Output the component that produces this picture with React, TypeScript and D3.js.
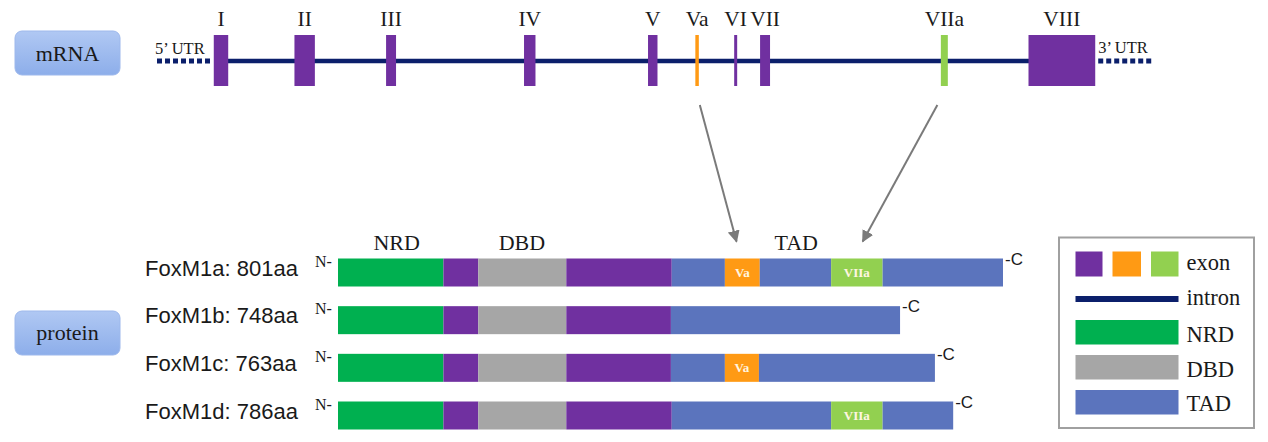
import React from "react";
import * as d3 from "d3";

// ---------- mRNA data (positions in relative gene units, 0..100) ----------
const exonLabels = ["I", "II", "III", "IV", "V", "Va", "VI", "VII", "VIIa", "VIII"];
const exonStarts = [5.7, 13.8, 23.0, 36.85, 49.3, 54.05, 57.95, 60.55, 78.7, 87.5];
const exonEnds = [7.15, 15.85, 24.0, 38.0, 50.25, 54.4, 58.25, 61.55, 79.4, 94.2];
const exonKinds = ["exon", "exon", "exon", "exon", "exon", "Va", "exon", "exon", "VIIa", "exon"];
const utr5 = [0, 5.45];
const utr3 = [94.5, 100];
const intronSpan = [7.0, 87.6];

// ---------- protein data (units on FoxM1a scale, 0..801) ----------
const isoformNames = ["FoxM1a: 801aa", "FoxM1b: 748aa", "FoxM1c: 763aa", "FoxM1d: 786aa"];
const isoformSegTypes = [
  ["NRD", "exon", "DBD", "exon", "TAD", "Va", "TAD", "VIIa", "TAD"],
  ["NRD", "exon", "DBD", "exon", "TAD"],
  ["NRD", "exon", "DBD", "exon", "TAD", "Va", "TAD"],
  ["NRD", "exon", "DBD", "exon", "TAD", "VIIa", "TAD"],
];
const isoformSegBounds = [
  [0, 127, 169, 275, 402, 466, 508, 594, 656, 801],
  [0, 127, 169, 275, 401, 677],
  [0, 127, 169, 275, 401, 466, 507, 719],
  [0, 127, 169, 275, 402, 594, 656, 741],
];
const domainLabels = ["NRD", "DBD", "TAD"];
const domainLabelPos = [70.7, 221.5, 552];

// arrows: mRNA unit -> protein unit
const arrowFrom = [54.5, 78.35];
const arrowTo = [480, 632];

// legend
const legendLabels = ["exon", "intron", "NRD", "DBD", "TAD"];

const colors: Record<string, string> = {
  exon: "#7030A0",
  Va: "#FF9A14",
  VIIa: "#92D050",
  NRD: "#00B050",
  DBD: "#A6A6A6",
  TAD: "#5B74BD",
  intron: "#0B1F6B",
};

export default function App() {
  const W = 1268;
  const H = 442;
  const xm = d3.scaleLinear().domain([0, 100]).range([157, 1153]);
  const xp = d3.scaleLinear().domain([0, 801]).range([338, 1003]);
  const yRow = d3.scaleLinear().domain([0, 3]).range([258.5, 401.5]);
  const barH = 28;
  const exonTop = 35;
  const exonBot = 86;
  const midY = 61;

  const serif = "'Liberation Serif', 'Times New Roman', serif";
  const sans = "'Liberation Sans', Arial, sans-serif";

  const arrowLine = d3.line();

  return (
    <svg
      width={W}
      height={H}
      style={{ position: "absolute", left: 0, top: 0, background: "#fff" }}
    >
      <defs>
        <linearGradient id="boxGrad" x1="0" y1="0" x2="0" y2="1">
          <stop offset="0" stopColor="#B0C8F3" />
          <stop offset="1" stopColor="#8DAEEA" />
        </linearGradient>
        <marker
          id="arrowHead"
          viewBox="0 0 10 10"
          refX="9"
          refY="5"
          markerWidth="6"
          markerHeight="6"
          orient="auto"
        >
          <path d="M0,0 L10,5 L0,10 z" fill="#7a7a7a" />
        </marker>
      </defs>

      {/* label boxes */}
      <rect x={15} y={31} width={105} height={44} rx={7} fill="url(#boxGrad)" stroke="#9db8ec" strokeWidth={1} />
      <text x={67.5} y={61} textAnchor="middle" fontFamily={serif} fontSize={22} fill="#1a1a1a">
        mRNA
      </text>
      <rect x={15} y={311} width={105} height={44} rx={7} fill="url(#boxGrad)" stroke="#9db8ec" strokeWidth={1} />
      <text x={67.5} y={340} textAnchor="middle" fontFamily={serif} fontSize={22} fill="#1a1a1a">
        protein
      </text>

      {/* mRNA */}
      <line x1={xm(utr5[0])} x2={xm(utr5[1])} y1={midY} y2={midY} stroke={colors.intron} strokeWidth={5} strokeDasharray="5 3" />
      <line x1={xm(utr3[0])} x2={xm(utr3[1])} y1={midY} y2={midY} stroke={colors.intron} strokeWidth={5} strokeDasharray="5 3" />
      <line x1={xm(intronSpan[0])} x2={xm(intronSpan[1])} y1={midY} y2={midY} stroke={colors.intron} strokeWidth={4.5} />
      <text x={xm(0) - 2} y={54} fontFamily={serif} fontSize={16.5} fill="#1a1a1a">5’ UTR</text>
      <text x={xm(utr3[0])} y={53} fontFamily={serif} fontSize={16.5} fill="#1a1a1a">3’ UTR</text>
      {exonLabels.map((lab, i) => {
        const x0 = xm(exonStarts[i]);
        const x1 = xm(exonEnds[i]);
        return (
          <g key={lab}>
            <rect x={x0} y={exonTop} width={x1 - x0} height={exonBot - exonTop} fill={colors[exonKinds[i]]} />
            <text x={(x0 + x1) / 2} y={26} textAnchor="middle" fontFamily={serif} fontSize={21.5} fill="#1a1a1a">
              {lab}
            </text>
          </g>
        );
      })}

      {/* arrows */}
      {arrowFrom.map((f, i) => (
        <path
          key={i}
          d={arrowLine([
            [xm(f), 105],
            [xp(arrowTo[i]), 241.5],
          ]) || ""}
          stroke="#7a7a7a"
          strokeWidth={2}
          fill="none"
          markerEnd="url(#arrowHead)"
        />
      ))}

      {/* domain labels */}
      {domainLabels.map((d, i) => (
        <text key={d} x={xp(domainLabelPos[i])} y={250} textAnchor="middle" fontFamily={serif} fontSize={22} fill="#1a1a1a">
          {d}
        </text>
      ))}

      {/* protein rows */}
      {isoformNames.map((name, r) => {
        const y = yRow(r);
        const types = isoformSegTypes[r];
        const b = isoformSegBounds[r];
        const end = xp(b[b.length - 1]);
        return (
          <g key={name}>
            <text x={145} y={y + 17} fontFamily={sans} fontSize={22} fill="#1a1a1a">
              {name}
            </text>
            <text x={315} y={y + 8} fontFamily={serif} fontSize={16} fill="#1a1a1a">
              N-
            </text>
            {types.map((t, j) => {
              const x0 = xp(b[j]);
              const x1 = xp(b[j + 1]);
              return (
                <g key={j}>
                  <rect x={x0} y={y} width={x1 - x0} height={barH} fill={colors[t]} />
                  {(t === "Va" || t === "VIIa") && (
                    <text
                      x={(x0 + x1) / 2}
                      y={y + 18.5}
                      textAnchor="middle"
                      fontFamily={serif}
                      fontSize={13}
                      fontWeight="bold"
                      fill="#FFF6E0"
                    >
                      {t}
                    </text>
                  )}
                </g>
              );
            })}
            <text x={end + 2} y={y + 6} fontFamily={sans} fontSize={17} fill="#1a1a1a">
              -C
            </text>
          </g>
        );
      })}

      {/* legend */}
      <rect x={1059} y={237.5} width={195} height={190.5} fill="#fff" stroke="#a0a0a0" strokeWidth={2} />
      <rect x={1075.5} y={251.5} width={27} height={25} fill={colors.exon} />
      <rect x={1112.5} y={251.5} width={28.5} height={25} fill={colors.Va} />
      <rect x={1151} y={251.5} width={27.5} height={25} fill={colors.VIIa} />
      <line x1={1075.5} x2={1178.5} y1={299} y2={299} stroke={colors.intron} strokeWidth={6} />
      <rect x={1075.5} y={320} width={103} height={24.5} fill={colors.NRD} />
      <rect x={1075.5} y={355} width={103} height={24.5} fill={colors.DBD} />
      <rect x={1075.5} y={390} width={103} height={24.5} fill={colors.TAD} />
      {legendLabels.map((l, i) => (
        <text key={l} x={1186.5} y={[270, 305, 341.5, 376.5, 411][i]} fontFamily={serif} fontSize={22.5} fill="#1a1a1a">
          {l}
        </text>
      ))}
    </svg>
  );
}
